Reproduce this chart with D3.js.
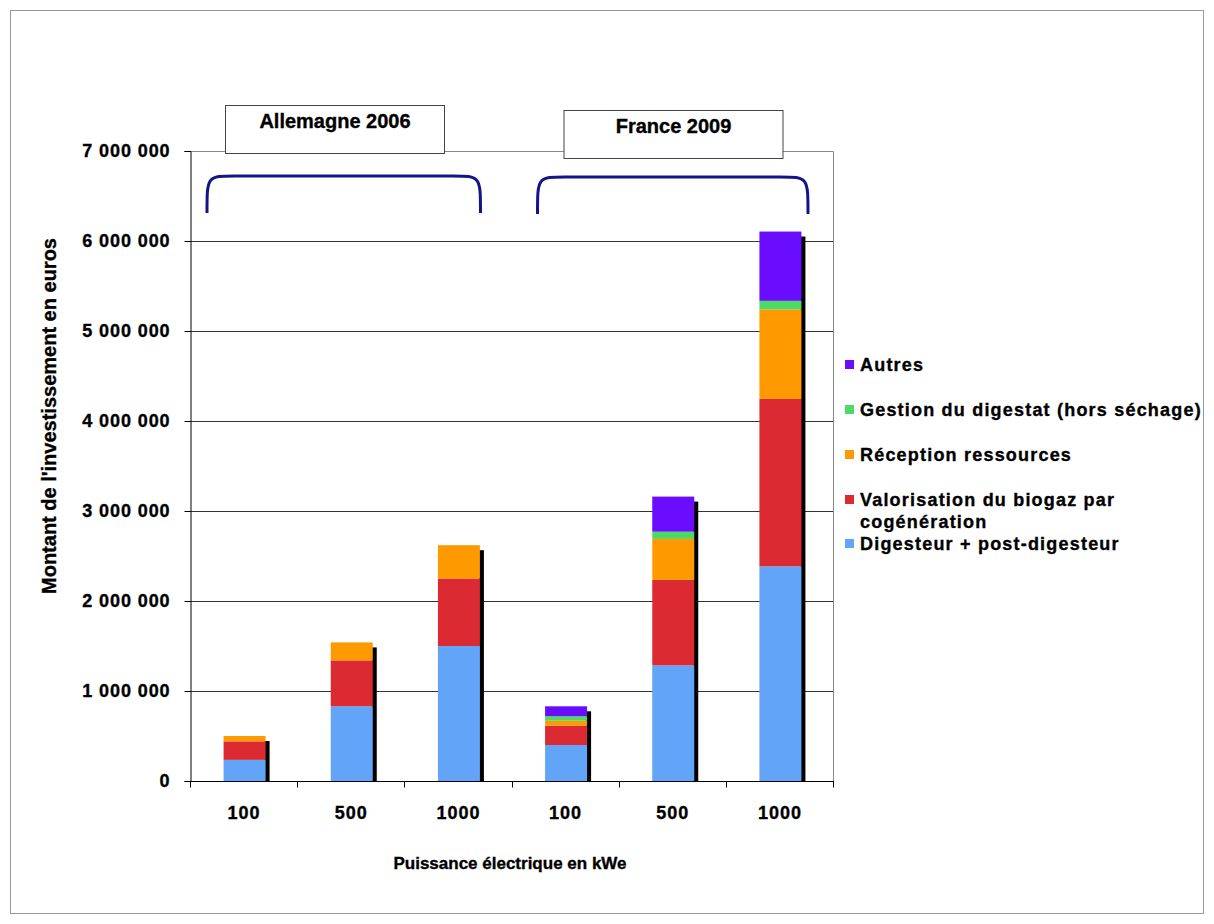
<!DOCTYPE html>
<html><head><meta charset="utf-8">
<script src="https://cdn.jsdelivr.net/npm/d3@7"></script>
<style>body{margin:0;background:#fff}svg{display:block}text{font-family:"Liberation Sans",Arial,sans-serif;font-weight:bold;fill:#000;stroke:#000;stroke-width:0.35px}</style>
</head><body>
<svg id="c" width="1214" height="924"></svg>
<script>
const groups = ["Allemagne 2006", "France 2009"];
const sizes = ["100", "500", "1000", "100", "500", "1000"];
const groupOf = [0, 0, 0, 1, 1, 1];
const seriesNames = ["Digesteur + post-digesteur", "Valorisation du biogaz par cogénération", "Réception ressources", "Gestion du digestat (hors séchage)", "Autres"];
const seriesColors = ["#62a4f8", "#dc2a32", "#ff9900", "#4cd964", "#6a0dff"];
const digesteur = [235000, 830000, 1500000, 400000, 1285000, 2385000];
const valorisation = [205000, 510000, 750000, 215000, 950000, 1860000];
const reception = [60000, 200000, 370000, 55000, 455000, 995000];
const gestion = [0, 0, 0, 50000, 80000, 95000];
const autres = [0, 0, 0, 110000, 390000, 770000];
const yTicks = [0, 1000000, 2000000, 3000000, 4000000, 5000000, 6000000, 7000000];

const svg = d3.select("#c");
const series = [digesteur, valorisation, reception, gestion, autres];
const rows = sizes.map((s, i) => { const r = {i}; series.forEach((a, k) => r[k] = a[i]); return r; });
const stacked = d3.stack().keys(d3.range(series.length))(rows);

const L = 190, R = 833, T = 151, B = 781;
const x = d3.scaleBand().domain(d3.range(sizes.length)).range([L, R]);
const y = d3.scaleLinear().domain([0, 7000000]).range([B, T]);
const fmt = v => d3.format(",")(v).replace(/,/g, " ");

// outer frame
svg.append("rect").attr("x", 10.5).attr("y", 10.5).attr("width", 1193).attr("height", 903).attr("fill", "none").attr("stroke", "#999");

// plot border (top / right)
svg.append("path").attr("d", `M${L},${T+0.5}H${R+0.5}V${B}`).attr("fill", "none").attr("stroke", "#888");

// gridlines
svg.append("g").selectAll("line").data(yTicks.slice(1, -1)).join("line")
  .attr("x1", L).attr("x2", R).attr("y1", d => Math.round(y(d)) + 0.5).attr("y2", d => Math.round(y(d)) + 0.5)
  .attr("stroke", "#333").attr("stroke-width", 1);

// y axis
const ya = svg.append("g").attr("transform", `translate(${L + 0.5},0)`)
  .call(d3.axisLeft(y).tickValues(yTicks).tickFormat(fmt).tickSize(6).tickPadding(14));
ya.select(".domain").attr("stroke", "#000");
ya.selectAll(".tick line").attr("stroke", "#000");
ya.selectAll("text").attr("font-size", 18).attr("letter-spacing", "0.9px").attr("font-family", "Liberation Sans, Arial").attr("font-weight", "bold");

// bars
const bw = 42;
const bx = i => x(i) + (x.bandwidth() - bw) / 2 + 1;
const totals = rows.map((r, i) => d3.sum(series, a => a[i]));
svg.append("g").selectAll("rect").data(d3.range(sizes.length)).join("rect")
  .attr("x", i => bx(i) + bw - 1).attr("width", 5)
  .attr("y", i => y(totals[i]) + 5).attr("height", i => B - y(totals[i]) - 5)
  .attr("fill", "#000");
stacked.forEach((s, k) => {
  svg.append("g").selectAll("rect").data(s.filter(d => d[1] > d[0])).join("rect")
    .attr("x", d => bx(d.data.i)).attr("width", bw)
    .attr("y", d => y(d[1])).attr("height", d => y(d[0]) - y(d[1]))
    .attr("fill", seriesColors[k]);
});

// x axis
const xa = svg.append("g").attr("transform", `translate(0,${B + 0.5})`);
xa.append("line").attr("x1", L).attr("x2", R + 1).attr("stroke", "#000");
xa.selectAll("line.t").data(d3.range(sizes.length + 1)).join("line").attr("class", "t")
  .attr("x1", i => Math.round(L + i * x.step()) + 0.5).attr("x2", i => Math.round(L + i * x.step()) + 0.5)
  .attr("y1", 0).attr("y2", 6).attr("stroke", "#000");
xa.selectAll("text").data(sizes).join("text")
  .attr("x", (d, i) => x(i) + x.bandwidth() / 2 + 0.5).attr("y", 37)
  .attr("text-anchor", "middle").attr("font-size", 18).attr("letter-spacing", "1px").text(d => d);

// axis titles
svg.append("text").attr("x", 510).attr("y", 869).attr("text-anchor", "middle").attr("font-size", 17).text("Puissance électrique en kWe");
svg.append("text").attr("transform", "translate(56,416) rotate(-90)").attr("text-anchor", "middle").attr("font-size", 20)
  .text("Montant de l'investissement en euros");

// group brackets and labels
const groupIdx = groups.map((g, gi) => d3.range(sizes.length).filter(i => groupOf[i] === gi));
groupIdx.forEach((idx, gi) => {
  const x0 = x(idx[0]) + 17 + 9 * gi, x1 = x(idx[idx.length - 1]) + x.bandwidth() - 31 + 6 * gi;
  const yt = 176 + gi, yb = 213 + gi, r = 28;
  svg.append("path").attr("d", `M${x0},${yb} C${x0},${yt} ${x0},${yt} ${x0 + r},${yt} H${x1 - r} C${x1},${yt} ${x1},${yt} ${x1},${yb}`)
    .attr("fill", "none").attr("stroke", "#14148a").attr("stroke-width", 3);
  const bxl = gi === 0 ? x(idx[0]) + 35.5 : x(idx[0]) + 52.5;
  const by = 105 + gi * 5;
  svg.append("rect").attr("x", bxl).attr("y", by + 0.5).attr("width", 219).attr("height", 48)
    .attr("fill", "#fff").attr("stroke", "#444");
  svg.append("text").attr("x", bxl + 109.5).attr("y", by + 23).attr("text-anchor", "middle").attr("font-size", 20)
    .text(groups[gi]);
});

// legend
const legendOrder = d3.range(seriesNames.length).reverse();
const lg = svg.append("g").attr("transform", "translate(845,0)");
legendOrder.forEach((k, j) => {
  const yy = 365 + j * 45 - (j === 4 ? 1 : 0);
  lg.append("rect").attr("x", 0).attr("y", yy - 5).attr("width", 9).attr("height", 9).attr("fill", seriesColors[k]);
  const name = seriesNames[k];
  const t = lg.append("text").attr("x", 15).attr("y", yy + 6).attr("font-size", 18).attr("letter-spacing", "1.2px");
  if (name.length > 36) {
    const cut = name.lastIndexOf(" ");
    t.append("tspan").attr("x", 15).text(name.slice(0, cut));
    t.append("tspan").attr("x", 15).attr("dy", 22).text(name.slice(cut + 1));
  } else t.text(name);
});
</script>
</body></html>
